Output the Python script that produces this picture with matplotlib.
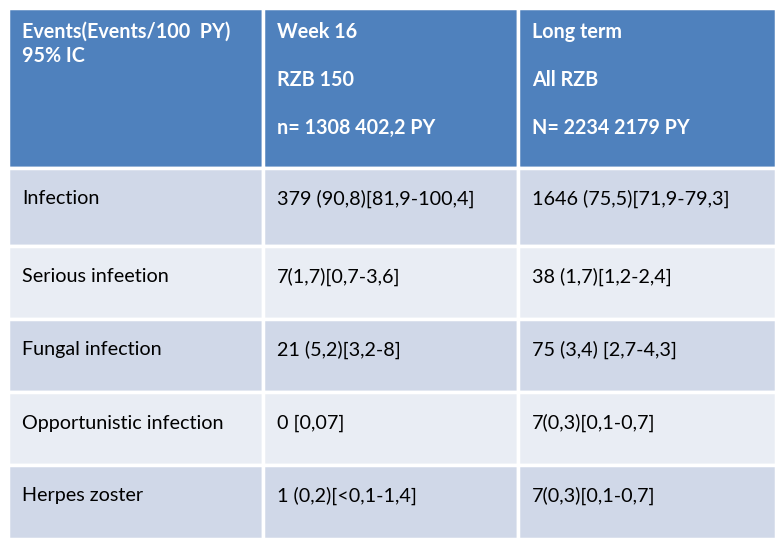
import matplotlib.pyplot as plt
from matplotlib.patches import Rectangle

plt.rcParams['font.family'] = 'Lato'

header_lines = [
    ["Events(Events/100  PY)", "95% IC"],
    ["Week 16", "", "RZB 150", "", "n= 1308 402,2 PY"],
    ["Long term", "", "All RZB", "", "N= 2234 2179 PY"],
]
row_labels = ["Infection", "Serious infeetion", "Fungal infection",
              "Opportunistic infection", "Herpes zoster"]
week16 = ["379 (90,8)[81,9-100,4]", "7(1,7)[0,7-3,6]", "21 (5,2)[3,2-8]",
          "0 [0,07]", "1 (0,2)[<0,1-1,4]"]
long_term = ["1646 (75,5)[71,9-79,3]", "38 (1,7)[1,2-2,4]", "75 (3,4) [2,7-4,3]",
             "7(0,3)[0,1-0,7]", "7(0,3)[0,1-0,7]"]

W, H = 783, 546
fig = plt.figure(figsize=(W / 100, H / 100), dpi=100)
ax = fig.add_axes([0, 0, 1, 1])
ax.set_xlim(0, W)
ax.set_ylim(H, 0)
ax.axis('off')

col_x = [8, 263, 518, 776]
row_y = [8, 168, 246, 319, 392, 465, 539]
body_colors = ['#D0D8E8', '#E9EDF4']

# header
for c in range(3):
    ax.add_patch(Rectangle((col_x[c], row_y[0]), col_x[c + 1] - col_x[c],
                           row_y[1] - row_y[0], fc='#4F81BD', ec='white', lw=2.5))
    for i, line in enumerate(header_lines[c]):
        ax.text(col_x[c] + 14, 32 + i * 24, line, color='white', fontsize=14.2,
                fontweight='bold', va='center', ha='left')

# body
cols = [row_labels, week16, long_term]
for r in range(len(row_labels)):
    y0, y1 = row_y[r + 1], row_y[r + 2]
    for c in range(3):
        ax.add_patch(Rectangle((col_x[c], y0), col_x[c + 1] - col_x[c], y1 - y0,
                               fc=body_colors[r % 2], ec='white', lw=2.5))
        ax.text(col_x[c] + 14, y0 + 31, cols[c][r], color='black', fontsize=14.2,
                va='center', ha='left')

fig.savefig('out.png', dpi=100, facecolor='white')
